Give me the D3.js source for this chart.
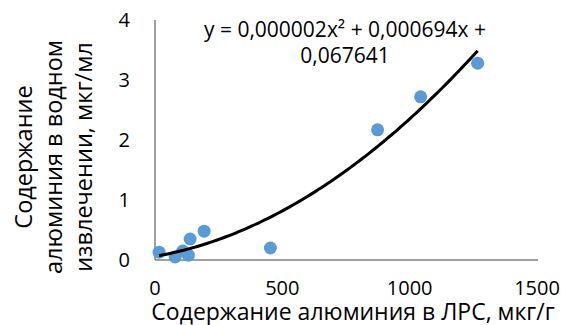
<!DOCTYPE html>
<html>
<head>
<meta charset="utf-8">
<script src="https://cdn.jsdelivr.net/npm/d3@7"></script>
<style>
  body { margin: 0; background: #fff; }
  svg { font-family: "Open Sans", sans-serif; }
</style>
</head>
<body>
<svg id="chart" width="566" height="325"></svg>
<script>
// aluminium in plant material (mkg/g) vs in water extract (mkg/ml)
var xValues = [16, 79, 109, 131, 138, 193, 453, 874, 1043, 1267];
var yValues = [0.13, 0.05, 0.15, 0.08, 0.35, 0.48, 0.20, 2.17, 2.72, 3.28];
var xTicks = [0, 500, 1000, 1500];
var yTicks = [0, 1, 2, 3, 4];
var equationLines = ["y = 0,000002x\u00b2 + 0,000694x +", "0,067641"];
var xTitle = "Содержание алюминия в ЛРС, мкг/г";
var yTitle = ["Содержание", "алюминия в водном", "извлечении, мкг/мл"];

var chart = d3.select("#chart");

var xScale = d3.scaleLinear().domain([0, 1500]).range([155, 537]);
var yScale = d3.scaleLinear().domain([0, 4]).range([260, 20]);

// quadratic least squares fit (Excel polynomial trendline, order 2)
function polyFit2(xs, ys) {
  var s = [0, 0, 0, 0, 0], t = [0, 0, 0];
  for (var i = 0; i < xs.length; i++) {
    var p = 1;
    for (var k = 0; k < 5; k++) { s[k] += p; if (k < 3) t[k] += p * ys[i]; p *= xs[i]; }
  }
  var m = [[s[0], s[1], s[2], t[0]], [s[1], s[2], s[3], t[1]], [s[2], s[3], s[4], t[2]]];
  for (var c = 0; c < 3; c++) {
    for (var r = c + 1; r < 3; r++) {
      var f = m[r][c] / m[c][c];
      for (var j = c; j < 4; j++) m[r][j] -= f * m[c][j];
    }
  }
  var b = [0, 0, 0];
  for (var r2 = 2; r2 >= 0; r2--) {
    var v = m[r2][3];
    for (var j2 = r2 + 1; j2 < 3; j2++) v -= m[r2][j2] * b[j2];
    b[r2] = v / m[r2][r2];
  }
  return b;
}
var coef = polyFit2(xValues, yValues);
var xMin = d3.min(xValues), xMax = d3.max(xValues);
var trend = d3.range(0, 101).map(function(i) {
  var x = xMin + (xMax - xMin) * i / 100;
  return [x, coef[0] + coef[1] * x + coef[2] * x * x];
});

// axes lines
chart.append("line")
  .attr("x1", xScale(0)).attr("x2", xScale(0))
  .attr("y1", yScale(4)).attr("y2", yScale(0))
  .attr("stroke", "#404040").attr("stroke-width", 1);
chart.append("line")
  .attr("x1", xScale(0)).attr("x2", xScale(1500) + 1)
  .attr("y1", yScale(0)).attr("y2", yScale(0))
  .attr("stroke", "#404040").attr("stroke-width", 1);

// tick labels
chart.selectAll(".ytick").data(yTicks).enter()
  .append("text")
  .attr("class", "ytick")
  .attr("x", 130)
  .attr("y", function(d) { return yScale(d) + 7; })
  .attr("text-anchor", "end")
  .attr("font-size", "20px")
  .attr("fill", "#000")
  .text(function(d) { return d; });

chart.selectAll(".xtick").data(xTicks).enter()
  .append("text")
  .attr("class", "xtick")
  .attr("x", function(d) { return xScale(d); })
  .attr("y", 295)
  .attr("text-anchor", "middle")
  .attr("font-size", "20px")
  .attr("fill", "#000")
  .text(function(d) { return d; });

// points
chart.selectAll("circle").data(xValues).enter()
  .append("circle")
  .attr("cx", function(d) { return xScale(d); })
  .attr("cy", function(d, i) { return yScale(yValues[i]); })
  .attr("r", 6.5)
  .attr("fill", "#5B9BD5");

// trendline
chart.append("path")
  .datum(trend)
  .attr("fill", "none")
  .attr("stroke", "#000")
  .attr("stroke-width", 3)
  .attr("d", d3.line()
    .x(function(d) { return xScale(d[0]); })
    .y(function(d) { return yScale(d[1]); }));

// equation label
chart.selectAll(".eq").data(equationLines).enter()
  .append("text")
  .attr("class", "eq")
  .attr("x", 345)
  .attr("y", function(d, i) { return 37 + i * 26; })
  .attr("text-anchor", "middle")
  .attr("font-size", "21px")
  .attr("fill", "#000")
  .text(function(d) { return d; });

// axis titles
chart.append("text")
  .text(xTitle)
  .attr("x", 353)
  .attr("y", 320)
  .attr("text-anchor", "middle")
  .attr("font-size", "23px")
  .attr("fill", "#000");

chart.selectAll(".ytitle").data(yTitle).enter()
  .append("text")
  .attr("class", "ytitle")
  .attr("transform", function(d, i) { return "translate(" + (32 + i * 30) + ",157) rotate(-90)"; })
  .attr("text-anchor", "middle")
  .attr("font-size", "23.5px")
  .attr("fill", "#000")
  .text(function(d) { return d; });
</script>
</body>
</html>
